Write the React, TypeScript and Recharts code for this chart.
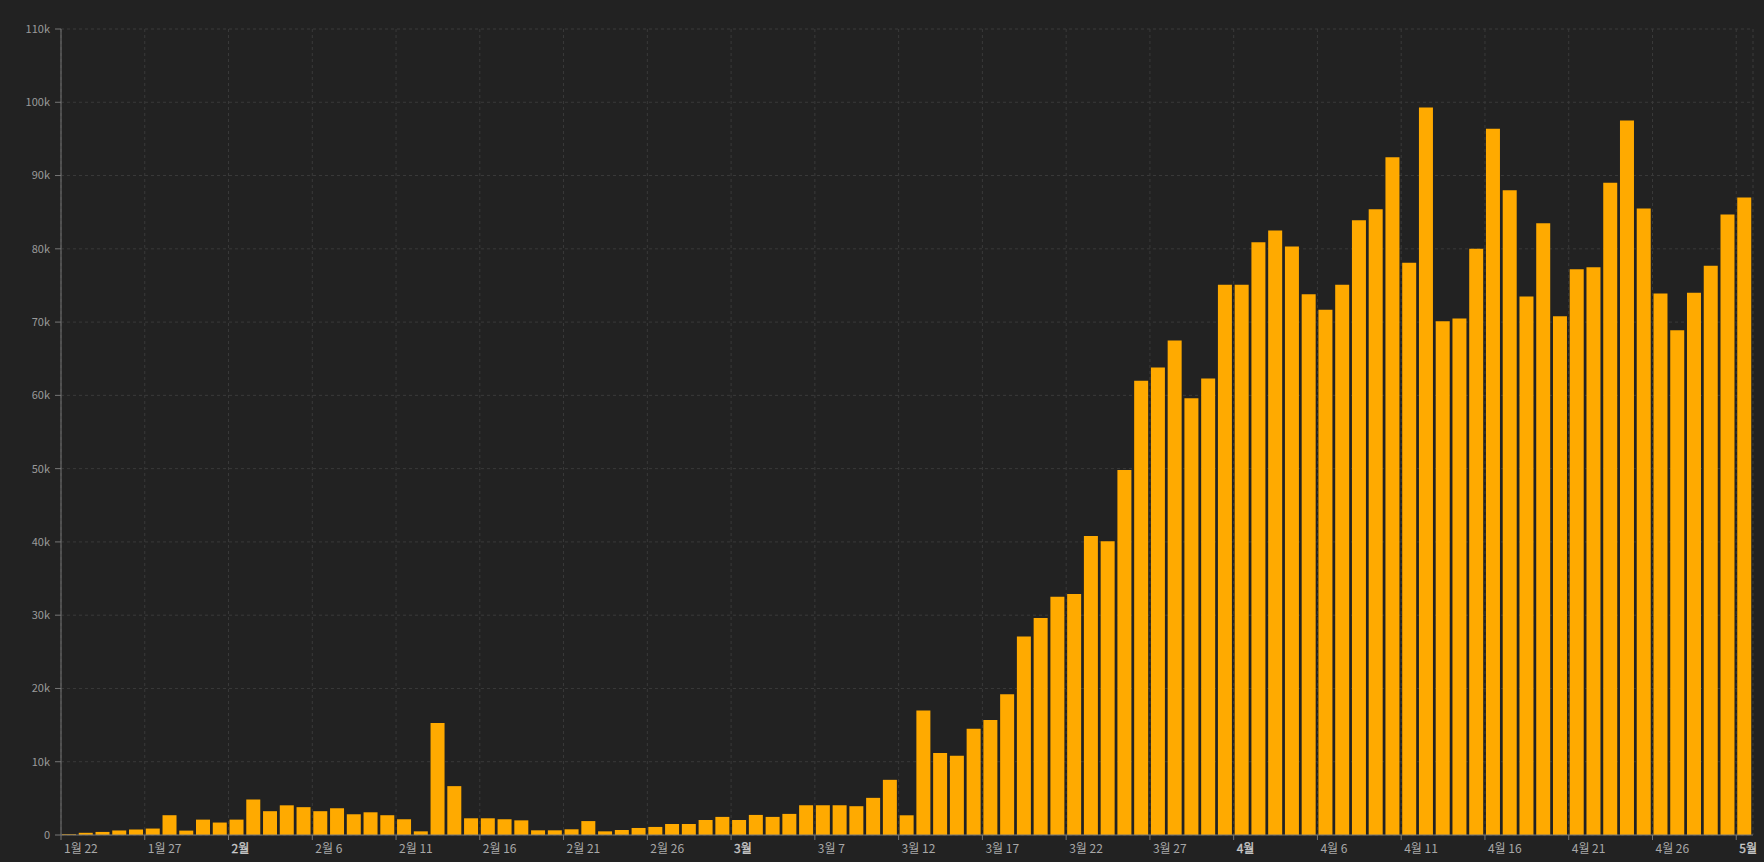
import { BarChart, Bar, XAxis, YAxis, CartesianGrid } from 'recharts';

// daily values, Jan 22 .. May 1
const dailyCases = [
  100, 300, 420, 620, 750, 880, 2700, 600, 2100, 1700,
  2100, 4850, 3250, 4050, 3800, 3250, 3650, 2830, 3100, 2700,
  2150, 500, 15300, 6670, 2280, 2280, 2150, 2000, 640, 640,
  780, 1900, 500, 680, 960, 1100, 1500, 1500, 2050, 2470,
  2050, 2740, 2470, 2880, 4060, 4060, 4060, 3930, 5070, 7530,
  2690, 17000, 11200, 10800, 14500, 15700, 19200, 27100, 29600, 32500,
  32900, 40800, 40100, 49800, 62000, 63800, 67500, 59600, 62300, 75100,
  75100, 80900, 82500, 80300, 73800, 71700, 75100, 83900, 85400, 92500,
  78100, 99300, 70100, 70500, 80000, 96400, 88000, 73500, 83500, 70800,
  77200, 77500, 89000, 97500, 85500, 73900, 68900, 74000, 77700, 84700,
  87000,
];

// day offsets (from Jan 22) where the axis puts a label
const tickIndex = [0, 5, 10, 15, 20, 25, 30, 35, 40, 45, 50, 55, 60, 65, 70, 75, 80, 85, 90, 95, 100];
const tickLabels = [
  '1월 22', '1월 27', '2월', '2월 6', '2월 11', '2월 16', '2월 21', '2월 26',
  '3월', '3월 7', '3월 12', '3월 17', '3월 22', '3월 27',
  '4월', '4월 6', '4월 11', '4월 16', '4월 21', '4월 26', '5월',
];
const yTicks = [0, 10000, 20000, 30000, 40000, 50000, 60000, 70000, 80000, 90000, 100000, 110000];

// each bar covers one whole day, so it sits at the middle of its day
const data = dailyCases.map((value, i) => ({ day: i + 0.5, value }));

const FONT = "'Noto Sans CJK KR', 'Noto Sans', sans-serif";

function DateTick(props: any) {
  const { x, y, payload } = props;
  const label = tickLabels[tickIndex.indexOf(payload.value)] ?? '';
  const isMonth = !label.includes(' ');
  const color = isMonth ? '#c8c8c8' : '#a8a8a8';
  return (
    <text
      x={x + 3}
      y={y}
      dy="0.8em"
      textAnchor="start"
      fontSize={12}
      fontFamily={FONT}
      fill={color}
      stroke={isMonth ? color : 'none'}
      strokeWidth={isMonth ? 0.35 : 0}
    >
      {label}
    </text>
  );
}

export default function App() {
  return (
    <div
      style={{
        position: 'fixed',
        left: 0,
        top: 0,
        width: 1764,
        height: 862,
        background: '#222222',
        overflow: 'hidden',
      }}
    >
      <BarChart
        width={1764}
        height={862}
        data={data}
        margin={{ top: 29, right: 11, bottom: 0, left: 0 }}
      >
        <CartesianGrid stroke="#3a3a3a" strokeDasharray="3 3" />
        <XAxis
          dataKey="day"
          type="number"
          domain={[0, 101]}
          ticks={tickIndex}
          interval={0}
          height={27}
          stroke="#777"
          tickSize={5}
          tickMargin={3}
          tick={DateTick}
          allowDataOverflow
        />
        <YAxis
          width={61}
          domain={[0, 110000]}
          ticks={yTicks}
          interval={0}
          stroke="#777"
          tickSize={6}
          tickMargin={5}
          tick={{ fill: '#9a9a9a', fontSize: 11, fontFamily: FONT }}
          tickFormatter={(v: number) => (v === 0 ? '0' : `${v / 1000}k`)}
          allowDataOverflow
        />
        <Bar dataKey="value" fill="#ffaa00" barSize={14} isAnimationActive={false} />
      </BarChart>
    </div>
  );
}
